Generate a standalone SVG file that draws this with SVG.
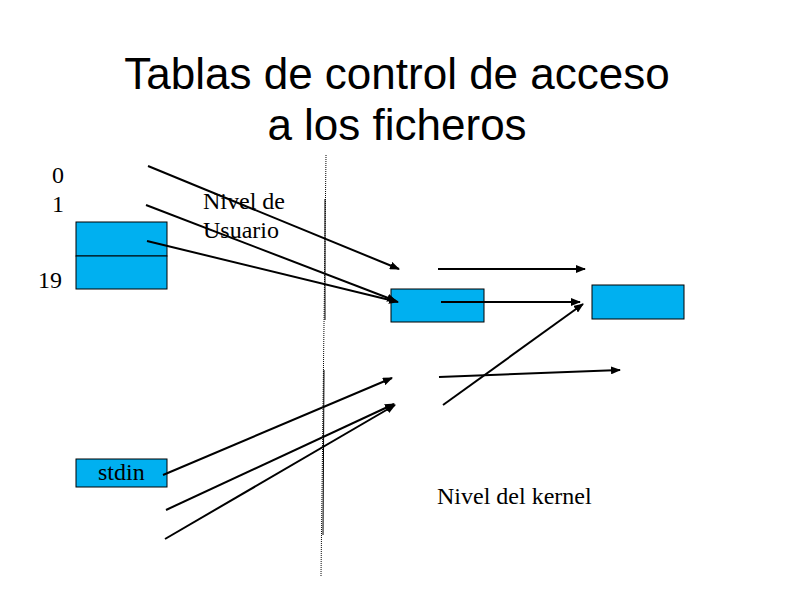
<svg xmlns="http://www.w3.org/2000/svg" width="794" height="595" viewBox="0 0 794 595">
<style>
.title{font-family:"Liberation Sans",Arial,sans-serif;font-size:44px;fill:#000;text-anchor:middle}
.t{font-family:"Liberation Serif","Times New Roman",serif;font-size:24px;fill:#000}
.box{fill:#00b0f0;stroke:#000;stroke-width:1}
.c{stroke:#000;stroke-width:2;fill:none;marker-end:url(#a)}
</style>
<defs>
<marker id="a" viewBox="0 0 10 8" refX="9" refY="4" markerWidth="10" markerHeight="8" markerUnits="userSpaceOnUse" orient="auto">
<path d="M0,0 L10,4 L0,8 z" fill="#000"/>
</marker>
</defs>
<rect width="794" height="595" fill="#fff"/>
<g id="title">
<text class="title" x="397" y="89">Tablas de control de acceso</text>
<text class="title" x="397" y="140">a los ficheros</text>
</g>
<g id="divider">
<line x1="326" y1="155" x2="321" y2="576" stroke="#000" stroke-width="1" stroke-dasharray="1,1"/>
<line x1="325" y1="199" x2="325" y2="320" stroke="#000" stroke-width="1"/>
<line x1="324" y1="370" x2="323" y2="535" stroke="#000" stroke-width="1"/>
</g>
<g id="labels">
<text class="t" x="52" y="183">0</text>
<text class="t" x="52" y="212">1</text>
<text class="t" x="38" y="288">19</text>
<text class="t" x="203" y="209">Nivel de</text>
<text class="t" x="203" y="238">Usuario</text>
<text class="t" x="437" y="504">Nivel del kernel</text>
</g>
<g id="fdtable">
<rect class="box" x="76" y="222" width="91" height="34"/>
<rect class="box" x="76" y="256" width="91" height="33"/>
</g>
<g id="stdin">
<rect class="box" x="76" y="459" width="91" height="28"/>
<text class="t" x="98" y="480">stdin</text>
</g>
<g id="filetable">
<rect class="box" x="391" y="289" width="93" height="33"/>
</g>
<g id="inode">
<rect class="box" x="592" y="285" width="92" height="34"/>
</g>
<g id="connectors">
<line class="c" x1="148" y1="166" x2="399" y2="269"/>
<line class="c" x1="146" y1="205" x2="396" y2="301"/>
<line class="c" x1="147" y1="241" x2="398" y2="302"/>
<line class="c" x1="438" y1="269" x2="585" y2="269"/>
<line class="c" x1="441" y1="302" x2="580" y2="302"/>
<line class="c" x1="443" y1="405" x2="583" y2="304"/>
<line class="c" x1="439" y1="377" x2="620" y2="370"/>
<line class="c" x1="163" y1="475" x2="392" y2="378"/>
<line class="c" x1="166" y1="510" x2="394" y2="404"/>
<line class="c" x1="165" y1="539" x2="395" y2="405"/>
</g>
</svg>
